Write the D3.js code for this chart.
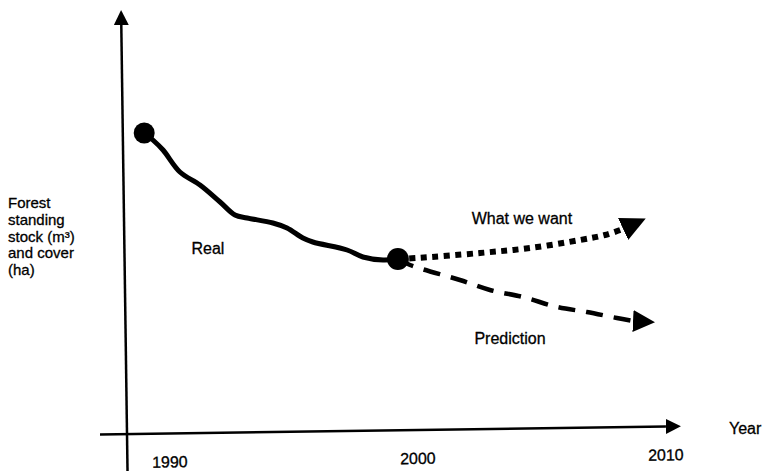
<!DOCTYPE html>
<html>
<head>
<meta charset="utf-8">
<script src="https://cdn.jsdelivr.net/npm/d3@7"></script>
<style>
  html, body { margin: 0; padding: 0; background: #fff; }
  svg { display: block; font-family: "Liberation Sans", Arial, Helvetica, sans-serif; }
  svg text { fill: #000; stroke: #000; stroke-width: 0.3px; }
</style>
</head>
<body>
<div id="chart"></div>
<script>
// Schematic: forest stock trend, real 1990-2000 and two paths to 2010.
// Values are in arbitrary units (0-100).

const YEARS = [1990, 2000, 2010];

const REAL_YEAR  = [1989.0, 1989.35, 1989.76, 1990.44, 1991.25, 1992.06, 1992.66, 1993.15,
                    1994.19, 1994.76, 1995.4, 1995.8, 1997.18, 1997.82, 1998.63, 1999.23];
const REAL_VALUE = [75.25, 73.5, 71, 65.5, 62.25, 58, 54.75, 54,
                    52.75, 51.5, 49, 48, 46, 44.25, 43.5, 43.75];

const WANT_YEAR  = [1999.23, 1999.99, 2002.54, 2004.56, 2006.57, 2007.58, 2008.31];
const WANT_VALUE = [43.75, 44, 45.25, 46.5, 48.5, 49.75, 51.25];

const PRED_YEAR  = [1999.23, 1999.72, 2001.73, 2002.94, 2004.27, 2005.65, 2006.85, 2008.06, 2008.71];
const PRED_VALUE = [43.75, 42.25, 38.5, 36, 34.25, 31.75, 30.5, 29, 28.25];

const CURVE_LABELS = [
  { text: "Real",         year: 1991.57, value: 45 },
  { text: "What we want", year: 2004.23, value: 52.5 },
  { text: "Prediction",   year: 2003.75, value: 22.5 },
];

const Y_LABEL_LINES = ["Forest", "standing", "stock (m³)", "and cover", "(ha)"];
const X_LABEL = "Year";

// ── Layout ──────────────────────────────────────────────────────────────────

const W = 763, H = 471;
const ORIGIN = { x: 127, y: 434 };   // where the axes cross
const TILT   = -0.8;                 // the scanned frame is slightly rotated

const xScale = d3.scaleLinear().domain([1990, 2010]).range([169, 665]);
const yScale = d3.scaleLinear().domain([0, 100]).range([ORIGIN.y, ORIGIN.y - 400]);

const svg = d3.select("#chart").append("svg")
  .attr("width", W)
  .attr("height", H);

// ── Arrowheads ──────────────────────────────────────────────────────────────

const defs = svg.append("defs");
function arrow(id, len, half, orient) {
  defs.append("marker")
    .attr("id", id)
    .attr("markerUnits", "userSpaceOnUse")
    .attr("viewBox", `0 ${-half} ${len} ${half * 2}`)
    .attr("markerWidth", len)
    .attr("markerHeight", half * 2)
    .attr("refX", 0)
    .attr("refY", 0)
    .attr("orient", orient)
    .append("path")
      .attr("d", `M0,${-half}L${len},0L0,${half}Z`)
      .attr("fill", "#000");
}
arrow("axis-head", 15, 7.5, "auto");
arrow("want-head", 25, 12, -25);
arrow("pred-head", 22, 11, 3);

// ── Axes (tilted like the scan) ─────────────────────────────────────────────

const axes = svg.append("g")
  .attr("transform", `rotate(${TILT},${ORIGIN.x},${ORIGIN.y})`);

axes.append("line")
  .attr("x1", ORIGIN.x).attr("x2", ORIGIN.x)
  .attr("y1", H + 10).attr("y2", 25)
  .attr("stroke", "#000").attr("stroke-width", 2.5)
  .attr("marker-end", "url(#axis-head)");

axes.append("line")
  .attr("x1", 100).attr("x2", 666)
  .attr("y1", ORIGIN.y).attr("y2", ORIGIN.y)
  .attr("stroke", "#000").attr("stroke-width", 2.5)
  .attr("marker-end", "url(#axis-head)");

axes.append("g")
  .attr("transform", `translate(0,${ORIGIN.y})`)
  .call(d3.axisBottom(xScale).tickValues(YEARS).tickSize(0).tickFormat(d3.format("d")))
  .call(ax => ax.select(".domain").remove())
  .selectAll("text")
    .attr("y", 34)
    .attr("dy", 0)
    .style("font-size", "16px")
    .style("font-family", "'Liberation Sans', Arial, sans-serif")
    .style("fill", "#000");

svg.append("text")
  .attr("x", 729)
  .attr("y", 434)
  .style("font-size", "16px")
  .text(X_LABEL);

const yLab = svg.append("text")
  .attr("x", 8)
  .attr("y", 208)
  .style("font-size", "15px");
Y_LABEL_LINES.forEach((t, i) => {
  yLab.append("tspan")
    .attr("x", 8)
    .attr("dy", i === 0 ? 0 : 16.8)
    .text(t);
});

// ── Curves ──────────────────────────────────────────────────────────────────

const line = d3.line()
  .x(d => xScale(d[0]))
  .y(d => yScale(d[1]))
  .curve(d3.curveCatmullRom);

const real = d3.zip(REAL_YEAR, REAL_VALUE);
const want = d3.zip(WANT_YEAR, WANT_VALUE);
const pred = d3.zip(PRED_YEAR, PRED_VALUE);

svg.append("path")
  .attr("d", line(pred))
  .attr("fill", "none")
  .attr("stroke", "#000")
  .attr("stroke-width", 4.5)
  .attr("stroke-dasharray", "17,11")
  .attr("marker-end", "url(#pred-head)");

svg.append("path")
  .attr("d", line(want))
  .attr("fill", "none")
  .attr("stroke", "#000")
  .attr("stroke-width", 6)
  .attr("stroke-dasharray", "6,5.5")
  .attr("marker-end", "url(#want-head)");

svg.append("path")
  .attr("d", line(real))
  .attr("fill", "none")
  .attr("stroke", "#000")
  .attr("stroke-width", 5)
  .attr("stroke-linejoin", "round")
  .attr("stroke-linecap", "round");

const ends = [real[0], real[real.length - 1]];
svg.selectAll("circle.end")
  .data(ends)
  .join("circle")
    .attr("class", "end")
    .attr("cx", d => xScale(d[0]))
    .attr("cy", d => yScale(d[1]))
    .attr("r", (d, i) => i === 0 ? 10.5 : 11)
    .attr("fill", "#000");

// ── Curve labels ────────────────────────────────────────────────────────────

svg.selectAll("text.curve-label")
  .data(CURVE_LABELS)
  .join("text")
    .attr("class", "curve-label")
    .attr("x", d => xScale(d.year))
    .attr("y", d => yScale(d.value))
    .attr("text-anchor", "middle")
    .style("font-size", "16px")
    .text(d => d.text);
</script>
</body>
</html>
